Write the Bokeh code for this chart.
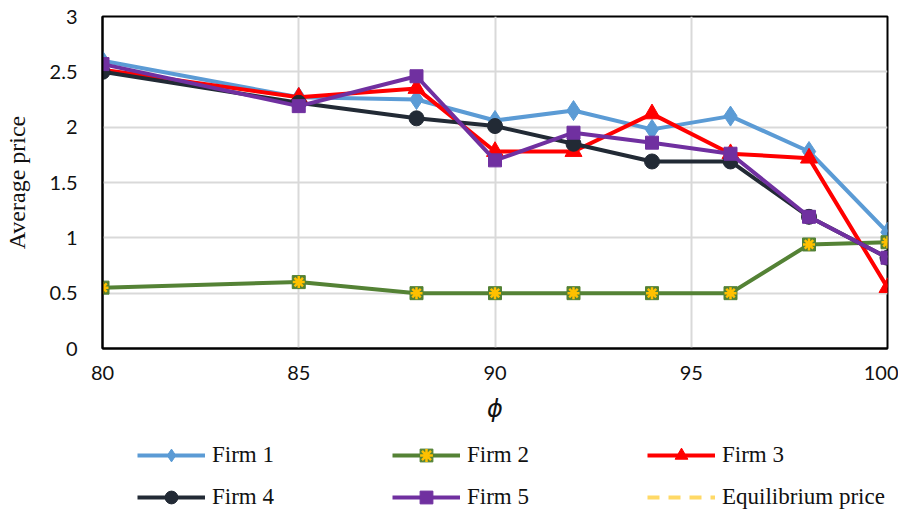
from bokeh.plotting import figure
from bokeh.layouts import column
from bokeh.models import Legend, LegendItem, Range1d, FixedTicker
from bokeh.embed import file_html
from bokeh.resources import INLINE

phi = [80, 85, 88, 90, 92, 94, 96, 98, 100]
firm1 = [2.60, 2.27, 2.25, 2.06, 2.15, 1.98, 2.10, 1.78, 1.05]
firm2 = [0.55, 0.60, 0.50, 0.50, 0.50, 0.50, 0.50, 0.94, 0.96]
firm3 = [2.52, 2.27, 2.35, 1.78, 1.78, 2.12, 1.76, 1.72, 0.55]
firm4 = [2.50, 2.22, 2.08, 2.01, 1.85, 1.69, 1.69, 1.19, 0.82]
firm5 = [2.57, 2.19, 2.46, 1.70, 1.95, 1.86, 1.76, 1.19, 0.82]
# equilibrium price: listed in the legend, not visible inside the plotted range
eq_phi = [90]
eq_price = [float("nan")]

series_names = ["Firm 1", "Firm 2", "Firm 3", "Firm 4", "Firm 5", "Equilibrium price"]
x_ticks = [80, 85, 90, 95, 100]
y_ticks = [0, 0.5, 1, 1.5, 2, 2.5, 3]

c1, c2, c2m, c3, c4, c5, ceq = "#5B9BD5", "#548235", "#FFC000", "#FF0000", "#222A35", "#7030A0", "#FFD966"


def add_series(fig):
    r = {}
    l1 = fig.line(phi, firm1, line_color=c1, line_width=4)
    m1 = fig.scatter(phi, firm1, marker="diamond", size=20, fill_color=c1, line_color=c1)
    r["Firm 1"] = [l1, m1]
    l2 = fig.line(phi, firm2, line_color=c2, line_width=4)
    m2a = fig.scatter(phi, firm2, marker="square", size=13, fill_color=c2, line_color=c2)
    m2b = fig.scatter(phi, firm2, marker="asterisk", size=12, line_color=c2m, line_width=2.5)
    r["Firm 2"] = [l2, m2a, m2b]
    l3 = fig.line(phi, firm3, line_color=c3, line_width=4)
    m3 = fig.scatter(phi, firm3, marker="triangle", size=17, fill_color=c3, line_color=c3)
    r["Firm 3"] = [l3, m3]
    l4 = fig.line(phi, firm4, line_color=c4, line_width=4)
    m4 = fig.scatter(phi, firm4, marker="circle", size=15, fill_color=c4, line_color=c4)
    r["Firm 4"] = [l4, m4]
    l5 = fig.line(phi, firm5, line_color=c5, line_width=4)
    m5 = fig.scatter(phi, firm5, marker="square", size=13, fill_color=c5, line_color=c5)
    r["Firm 5"] = [l5, m5]
    leq = fig.line(eq_phi, eq_price, line_color=ceq, line_width=4, line_dash="12 9")
    r["Equilibrium price"] = [leq]
    return r


p = figure(width=898, height=432, output_backend="svg", toolbar_location=None,
           x_range=Range1d(80, 100), y_range=Range1d(0, 3),
           min_border_left=102, min_border_right=11, min_border_top=16, min_border_bottom=84)

p.outline_line_color = "black"
p.outline_line_width = 2
p.background_fill_color = "white"

for ax in (p.xaxis[0], p.yaxis[0]):
    ax.axis_line_color = "black"
    ax.axis_line_width = 2
    ax.major_tick_line_color = None
    ax.minor_tick_line_color = None
    ax.major_label_text_font = "Lato"
    ax.major_label_text_font_size = "20px"
    ax.major_label_text_color = "#111111"

p.xaxis.ticker = FixedTicker(ticks=x_ticks)
p.yaxis.ticker = FixedTicker(ticks=y_ticks)
p.yaxis.major_label_overrides = {0: "0", 0.5: "0.5", 1: "1", 1.5: "1.5", 2: "2", 2.5: "2.5", 3: "3"}
p.xaxis.major_label_standoff = 11
p.yaxis.major_label_standoff = 19

p.xaxis.axis_label = "ϕ"
p.xaxis.axis_label_text_font = "DejaVu Sans"
p.xaxis.axis_label_text_font_style = "italic"
p.xaxis.axis_label_text_font_size = "24px"
p.xaxis.axis_label_standoff = 12
p.xaxis.axis_label_text_color = "#111111"

p.yaxis.axis_label = "Average price"
p.yaxis.axis_label_text_font = "Liberation Serif"
p.yaxis.axis_label_text_font_style = "normal"
p.yaxis.axis_label_text_font_size = "24px"
p.yaxis.axis_label_standoff = 17
p.yaxis.axis_label_text_color = "#111111"

p.xgrid.grid_line_color = "#D9D9D9"
p.xgrid.grid_line_width = 2
p.ygrid.grid_line_color = "#D9D9D9"
p.ygrid.grid_line_width = 2

add_series(p)

# legend strip: same series, drawn outside its hidden ranges, so only the legend shows
lf = figure(width=898, height=79, output_backend="svg", toolbar_location=None,
            x_range=Range1d(0, 1), y_range=Range1d(10, 11),
            x_axis_location=None, y_axis_location=None,
            min_border_left=0, min_border_right=0, min_border_top=0, min_border_bottom=0)
lf.grid.visible = False
lf.outline_line_color = None
leg_r = add_series(lf)

order = ["Firm 1", "Firm 4", "Firm 2", "Firm 5", "Firm 3", "Equilibrium price"]
items = [LegendItem(label=n, renderers=leg_r[n]) for n in order]
legend = Legend(items=items, ncols=3, location=(35, -2),
                glyph_width=68, glyph_height=32, label_height=32, label_width=170,
                label_standoff=7, spacing=10, padding=0, margin=0,
                label_text_font="Liberation Serif", label_text_font_size="23px",
                label_text_color="#111111",
                border_line_color=None, background_fill_alpha=0)
lf.add_layout(legend, "center")

layout = column(p, lf, spacing=0)
open("out.html", "w").write(file_html(layout, INLINE))
